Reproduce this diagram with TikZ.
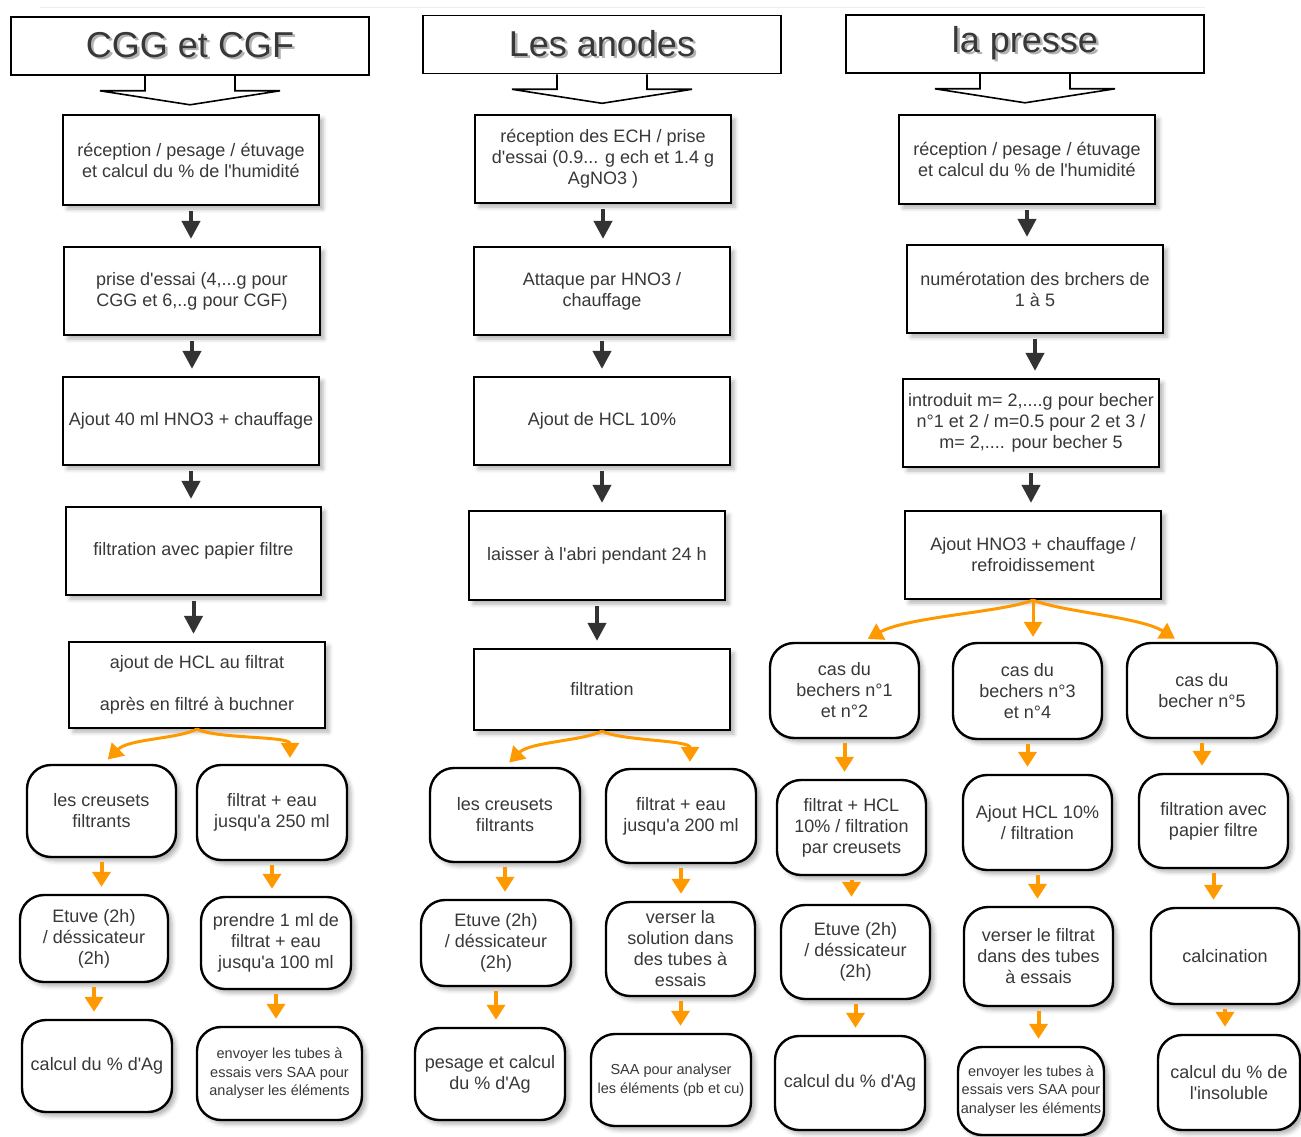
\documentclass[tikz,border=0pt]{standalone}
\usepackage{fontspec}
\setmainfont{Liberation Sans}
\usetikzlibrary{arrows.meta, shadows.blur}
\definecolor{txtgrey}{HTML}{383838}
\definecolor{flowor}{HTML}{FF9900}
\definecolor{arrgrey}{HTML}{333333}
\newcommand{\hdrtext}[1]{\rlap{\kern2.5pt\raisebox{-2.5pt}{\textcolor{black!30}{#1}}}#1}
\newcommand{\q}{\textquotesingle}

\begin{document}
\begin{tikzpicture}[x=1pt, y=-1pt,
    sz/.style 2 args={minimum width=#1pt, minimum height=#2pt},
    hdr/.style={draw, line width=1.6pt, sz={358}{58}, font=\fontsize{36}{40}\selectfont, text=txtgrey},
    hdrline/.style={line width=1.6pt},
    procbox/.style={draw, fill=white, line width=2.2pt, align=center, inner sep=2pt,
        font=\fontsize{18}{21}\selectfont, text=txtgrey,
        blur shadow={shadow xshift=4pt, shadow yshift=-4pt, shadow blur radius=4pt, shadow opacity=30}},
    resbox/.style={procbox, rounded corners=24pt, line width=2.4pt},
    small/.style={font=\fontsize{14.5}{18.5}\selectfont},
    blkarrow/.style={-{Triangle[width=18pt,length=18pt]}, line width=4pt, arrgrey, shorten <=5pt, shorten >=7pt},
    orarrow/.style={-{Triangle[width=18pt,length=15pt]}, line width=4pt, flowor},
]
\useasboundingbox (0,0) rectangle (1301,1137);
\draw[black!7] (40,7) -- (1205,7);

% Headers
\node[hdr] (cgg) at (190,46) {\hdrtext{CGG et CGF}};
\node[hdr] (ano) at (602,44.5) {\hdrtext{Les anodes}};
\node[hdr] (pre) at (1025,44) {\hdrtext{la presse}};
\foreach \h in {cgg, ano, pre}
    \draw[hdrline] ([xshift=-45pt]\h.south) -- ++(0,15) -- ++(-45,0) -- ([yshift=-29pt]\h.south)
        -- ([xshift=90pt,yshift=-15pt]\h.south) -- ++(-45,0) -- ++(0,-15);

% CGG et CGF
\node[procbox, sz={256}{90}] (cgg1) at (191,160) {réception / pesage / étuvage\\et calcul du \% de l\q humidité};
\node[procbox, sz={256}{88}] (cgg2) at (192,291) {prise d\q essai (4,...g pour\\CGG et 6,..g pour CGF)};
\node[procbox, sz={256}{88}] (cgg3) at (191,421) {Ajout 40 ml HNO3 + chauffage};
\node[procbox, sz={255}{88}] (cgg4) at (193.5,551) {filtration avec papier filtre};
\node[procbox, sz={256}{86}] (cgg5) at (197,685) {ajout de HCL au filtrat\\[21pt]après en filtré à buchner};
\node[resbox, sz={149}{92}] (cggL1) at (101.5,811) {les creusets\\filtrants};
\node[resbox, sz={150}{95}] (cggR1) at (272,812.5) {filtrat + eau\\jusqu\q a 250 ml};
\node[resbox, sz={148}{87}] (cggL2) at (94,938.5) {Etuve (2h)\\/ déssicateur\\(2h)};
\node[resbox, sz={150}{92}] (cggR2) at (276,943) {prendre 1 ml de\\filtrat + eau\\jusqu\q a 100 ml};
\node[resbox, sz={150}{92}] (cggL3) at (97,1066) {calcul du \% d\q Ag};
\node[resbox, small, sz={165}{93}] (cggR3) at (279.5,1073.5) {envoyer les tubes à\\essais vers SAA pour\\analyser les éléments};

% Les anodes
\node[procbox, sz={256}{88}] (ano1) at (603,159) {réception des ECH / prise\\d\q essai (0.9... g ech et 1.4 g\\AgNO3 )};
\node[procbox, sz={256}{88}] (ano2) at (602,291) {Attaque par HNO3 /\\chauffage};
\node[procbox, sz={256}{88}] (ano3) at (602,421) {Ajout de HCL 10\%};
\node[procbox, sz={256}{89}] (ano4) at (597,555.5) {laisser à l\q abri pendant 24 h};
\node[procbox, sz={256}{81}] (ano5) at (602,689.5) {filtration};
\node[resbox, sz={150}{94}] (anoL1) at (505,815) {les creusets\\filtrants};
\node[resbox, sz={150}{94}] (anoR1) at (681,816) {filtrat + eau\\jusqu\q a 200 ml};
\node[resbox, sz={150}{86}] (anoL2) at (496,943) {Etuve (2h)\\/ déssicateur\\(2h)};
\node[resbox, sz={149}{94}] (anoR2) at (680.5,949) {verser la\\solution dans\\des tubes à\\essais};
\node[resbox, sz={150}{92}] (anoL3) at (490,1074) {pesage et calcul\\du \% d\q Ag};
\node[resbox, small, sz={160}{92}] (anoR3) at (671,1080) {SAA pour analyser\\les éléments (pb et cu)};

% la presse
\node[procbox, sz={256}{89}] (pre1) at (1027,159.5) {réception / pesage / étuvage\\et calcul du \% de l\q humidité};
\node[procbox, sz={256}{88}] (pre2) at (1035,289) {numérotation des brchers de\\1 à 5};
\node[procbox, sz={256}{88}] (pre3) at (1031,423) {introduit m= 2,....g pour becher\\n°1 et 2 / m=0.5 pour 2 et 3 /\\m= 2,.... pour becher 5};
\node[procbox, sz={256}{88}] (pre4) at (1033,555) {Ajout HNO3 + chauffage /\\refroidissement};
\node[resbox, sz={149}{95}] (preA1) at (844.5,690.5) {cas du\\bechers n°1\\et n°2};
\node[resbox, sz={149}{96}] (preB1) at (1027.5,691) {cas du\\bechers n°3\\et n°4};
\node[resbox, sz={150}{95}] (preC1) at (1202,690.5) {cas du\\becher n°5};
\node[resbox, sz={149}{95}] (preA2) at (851.5,827.5) {filtrat + HCL\\10\% / filtration\\par creusets};
\node[resbox, sz={149}{95}] (preB2) at (1037.5,822.5) {Ajout HCL 10\%\\/ filtration};
\node[resbox, sz={149}{94}] (preC2) at (1213.5,821) {filtration avec\\papier filtre};
\node[resbox, sz={149}{94}] (preA3) at (855.5,952) {Etuve (2h)\\/ déssicateur\\(2h)};
\node[resbox, sz={149}{99}] (preB3) at (1038.5,956.5) {verser le filtrat\\dans des tubes\\à essais};
\node[resbox, sz={148}{96}] (preC3) at (1225,956) {calcination};
\node[resbox, sz={150}{94}] (preA4) at (850,1083) {calcul du \% d\q Ag};
\node[resbox, small, sz={146}{88}] (preB4) at (1031,1091) {envoyer les tubes à\\essais vers SAA pour\\analyser les éléments};
\node[resbox, sz={142}{95}] (preC4) at (1229,1082.5) {calcul du \% de\\l\q insoluble};

% Black arrows
\foreach \a/\b in {cgg1/cgg2, cgg2/cgg3, cgg3/cgg4, cgg4/cgg5,
                   ano1/ano2, ano2/ano3, ano3/ano4, ano4/ano5,
                   pre1/pre2, pre2/pre3, pre3/pre4}
    \draw[blkarrow] (\a.south) -- (\a.south |- \b.north);

% Orange arrows
\foreach \a/\b in {cggL1/cggL2, cggL2/cggL3, cggR1/cggR2, cggR2/cggR3,
                   anoL1/anoL2, anoL2/anoL3, anoR1/anoR2, anoR2/anoR3,
                   preA1/preA2, preA2/preA3, preA3/preA4, preB1/preB2, preB2/preB3,
                   preB3/preB4, preC1/preC2, preC2/preC3, preC3/preC4}
    \draw[orarrow, shorten <=4pt, shorten >=7pt] (\a.south) -- (\a.south |- \b.north);

\draw[orarrow, line width=3pt, shorten >=6pt] (cgg5.south) .. controls +(-20,10) and +(25,-25) .. ([xshift=2pt]cggL1.north);
\draw[orarrow, line width=3pt, shorten >=6pt] (cgg5.south) .. controls +(20,10) and +(0,-28) .. ([xshift=18pt]cggR1.north);
\draw[orarrow, line width=3pt, shorten >=6pt] (ano5.south) .. controls +(-20,10) and +(25,-25) .. (anoL1.north);
\draw[orarrow, line width=3pt, shorten >=6pt] (ano5.south) .. controls +(20,10) and +(0,-28) .. ([xshift=9pt]anoR1.north);
\draw[orarrow, line width=3pt, shorten >=6pt] (pre4.south) .. controls +(-30,12) and +(45,-25) .. ([xshift=18pt]preA1.north);
\draw[orarrow, line width=3pt, shorten >=5pt] (pre4.south) -- (pre4.south |- preB1.north);
\draw[orarrow, line width=3pt, shorten >=6pt] (pre4.south) .. controls +(30,12) and +(-40,-25) .. ([xshift=-22pt]preC1.north);
\end{tikzpicture}
\end{document}
